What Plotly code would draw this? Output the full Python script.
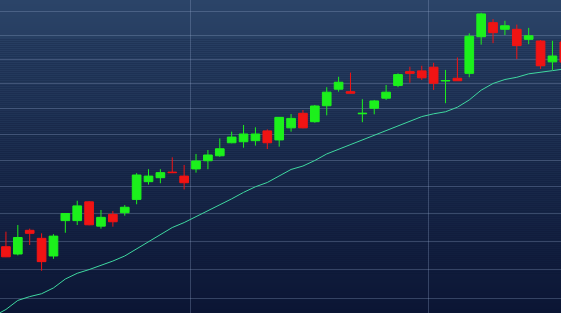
import math
import plotly.graph_objects as go

# ---- data ----
idx = list(range(48))
open_ = [47.81, 47.55, 48.40, 48.11, 47.48, 48.75, 48.75, 49.44, 48.55, 48.98,
         49.04, 49.53, 50.19, 50.34, 50.55, 50.40, 50.67, 50.98, 51.17, 51.67,
         51.71, 51.75, 52.13, 51.78, 52.25, 52.82, 52.49, 53.12, 53.78, 53.68,
         52.80, 53.02, 53.42, 53.93, 54.49, 54.52, 54.67, 54.11, 54.22, 54.42,
         55.93, 56.52, 56.24, 56.24, 55.82, 55.75, 54.89, 55.71]
high_ = [48.35, 48.59, 48.46, 48.29, 48.26, 49.01, 49.48, 49.47, 49.14, 49.10,
         49.32, 50.51, 50.66, 50.66, 51.11, 50.82, 51.24, 51.39, 51.84, 52.10,
         52.36, 52.27, 52.19, 52.66, 52.79, 52.95, 53.15, 53.86, 54.28, 54.45,
         53.38, 53.35, 53.95, 54.42, 54.69, 54.73, 54.85, 54.56, 55.07, 56.07,
         56.94, 56.67, 56.60, 56.44, 56.30, 55.79, 55.76, 55.96]
low_ = [47.44, 47.50, 47.87, 46.96, 47.38, 48.31, 48.59, 48.58, 48.46, 48.53,
        48.93, 49.35, 50.08, 50.13, 50.52, 49.90, 50.53, 50.66, 51.13, 51.65,
        51.48, 51.56, 51.43, 51.52, 52.10, 52.23, 52.45, 52.74, 53.68, 53.61,
        52.47, 52.78, 53.35, 53.86, 54.04, 54.15, 53.75, 53.22, 54.11, 54.26,
        55.60, 55.66, 56.00, 55.00, 55.62, 54.60, 54.56, 54.72]
close_ = [47.45, 48.14, 48.29, 47.28, 48.19, 49.01, 49.29, 48.60, 48.87, 48.71,
          49.24, 50.44, 50.40, 50.53, 50.53, 50.15, 50.97, 51.20, 51.44, 51.89,
          52.01, 52.01, 51.67, 52.66, 52.62, 52.25, 53.11, 53.66, 54.06, 53.62,
          52.82, 53.31, 53.66, 54.37, 54.42, 54.24, 54.02, 54.13, 54.12, 55.95,
          56.89, 56.10, 56.39, 55.56, 55.97, 54.73, 55.13, 54.88]

ma_idx = list(range(-1, 48))
ma_val = [45.40, 45.62, 45.93, 46.06, 46.16, 46.36, 46.67, 46.87, 47.00, 47.15,
          47.30, 47.48, 47.73, 47.99, 48.26, 48.50, 48.68, 48.89, 49.11, 49.33,
          49.55, 49.79, 50.00, 50.16, 50.40, 50.65, 50.78, 50.99, 51.24, 51.42,
          51.60, 51.79, 51.97, 52.15, 52.34, 52.52, 52.69, 52.80, 52.88, 53.06,
          53.35, 53.74, 54.01, 54.17, 54.26, 54.40, 54.48, 54.53, 54.60]

y_grid = list(range(45, 59))
x_grid = [15.5, 35.55]

UP = "#1cf01c"
DOWN = "#f01414"
MA_COLOR = "#3fd8a0"

fig = go.Figure()
fig.add_trace(go.Candlestick(
    x=idx, open=open_, high=high_, low=low_, close=close_,
    increasing=dict(line=dict(color=UP, width=1), fillcolor=UP),
    decreasing=dict(line=dict(color=DOWN, width=1), fillcolor=DOWN),
    whiskerwidth=0, showlegend=False, hoverinfo="skip",
))
fig.add_trace(go.Scatter(
    x=ma_idx, y=ma_val, mode="lines",
    line=dict(color=MA_COLOR, width=1), showlegend=False, hoverinfo="skip",
))

# vertical gradient background
top = (43, 68, 104)
bot = (11, 21, 52)
n = 157
shapes = []
for k in range(n):
    t = k / (n - 1)
    c = tuple(round(top[j] + (bot[j] - top[j]) * t) for j in range(3))
    shapes.append(dict(type="rect", xref="paper", yref="paper",
                       x0=0, x1=1, y0=1 - (k + 1) / n, y1=1 - k / n,
                       fillcolor="rgb(%d,%d,%d)" % c, line=dict(width=0),
                       layer="below"))

grid_color = "rgba(150,170,205,0.30)"
fig.update_layout(
    width=561, height=313,
    margin=dict(l=0, r=0, t=0, b=0),
    paper_bgcolor="rgb(11,21,52)",
    plot_bgcolor="rgba(0,0,0,0)",
    shapes=shapes,
    boxgap=0.27, boxgroupgap=0,
    xaxis=dict(range=[-0.5, 46.72], tickvals=x_grid, showticklabels=False,
               showgrid=True, gridcolor=grid_color, gridwidth=1,
               zeroline=False, showline=False, ticks="",
               rangeslider=dict(visible=False)),
    yaxis=dict(type="log", range=[math.log10(45.50), math.log10(57.485)],
               tickvals=y_grid, showticklabels=False,
               showgrid=True, gridcolor=grid_color, gridwidth=1,
               zeroline=False, showline=False, ticks=""),
    hovermode=False,
)

fig.write_html("out.html")
